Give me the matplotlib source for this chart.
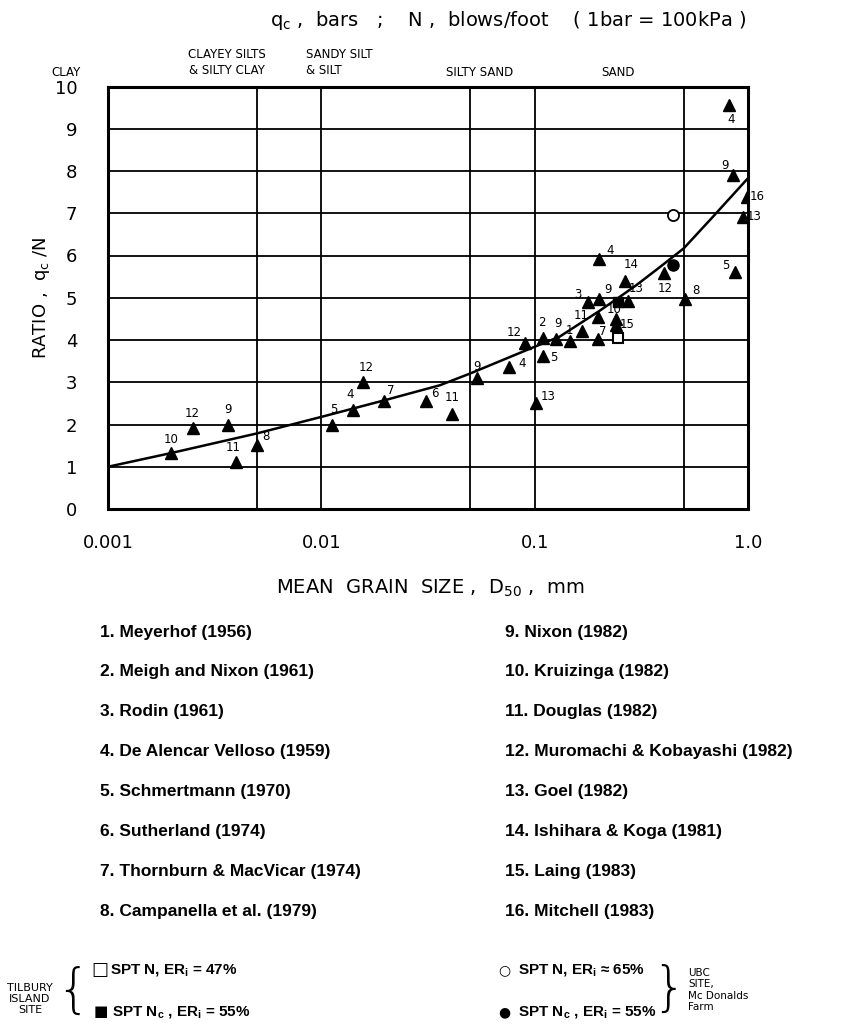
import numpy as np
from matplotlib import pyplot as plt

# grain size D50 (mm) and ratio qc/N for the triangle points, with the reference number
tri_d50 = [0.00197, 0.00249, 0.00364, 0.00397, 0.00501, 0.0112, 0.0140, 0.0157, 0.0197, 0.031,
           0.0409, 0.0535, 0.0759, 0.0902, 0.101, 0.109, 0.109, 0.126, 0.147, 0.167,
           0.198, 0.198, 0.241, 0.241, 0.177, 0.200, 0.200, 0.265, 0.275, 0.405,
           0.504, 0.871, 0.818, 0.855, 0.987, 0.944]
tri_ratio = [1.32, 1.91, 1.99, 1.12, 1.51, 1.99, 2.34, 3.00, 2.56, 2.56,
             2.26, 3.09, 3.37, 3.92, 2.50, 3.62, 4.04, 4.02, 3.97, 4.21,
             4.02, 4.55, 4.50, 4.36, 4.91, 4.96, 5.92, 5.40, 4.93, 5.59,
             4.96, 5.62, 9.56, 7.90, 7.39, 6.92]
tri_ref = ["10", "12", "9", "11", "8", "5", "4", "12", "7", "6",
           "11", "9", "4", "12", "13", "5", "2", "9", "1", "11",
           "7", "", "10", "15", "3", "9", "4", "14", "13", "12",
           "8", "5", "4", "9", "16", "13"]
# label offsets in pixels (layout only)
lab_off = [(0, 14), (0, 15), (0, 15), (-3, 14), (9, 9), (2, 15), (-2, 16), (3, 15), (7, 10), (9, 7),
           (0, 16), (0, 12), (13, 3), (-11, 11), (13, 7), (11, -1), (-1, 16), (2, 16), (-1, 11), (-1, 16),
           (5, 8), (0, 0), (-2, 9), (11, 0), (-10, 7), (9, 10), (11, 8), (6, 16), (8, 12), (1, -16),
           (11, 9), (-9, 6), (2, -14), (-8, 10), (10, 0), (11, 0)]

# Tilbury Island site
tilbury_n_d50 = [0.247]
tilbury_n_ratio = [4.04]
tilbury_nc_d50 = [0.247]
tilbury_nc_ratio = [4.91]
# UBC site, McDonalds Farm
ubc_n_d50 = [0.444]
ubc_n_ratio = [6.96]
ubc_nc_d50 = [0.447]
ubc_nc_ratio = [5.77]

# average curve
curve_d50 = [0.001, 0.002, 0.005, 0.01, 0.02, 0.036, 0.05, 0.1, 0.131, 0.2, 0.247, 0.3, 0.385, 0.5, 0.68, 1.0]
curve_ratio = [1.0, 1.33, 1.79, 2.18, 2.58, 2.93, 3.21, 3.84, 4.08, 4.68, 5.0, 5.3, 5.72, 6.17, 6.9, 7.83]

grid_x = [0.005, 0.01, 0.05, 0.1, 0.5]
xticks = [0.001, 0.01, 0.1, 1.0]
xticklabels = ["0.001", "0.01", "0.1", "1.0"]
yticks = list(range(0, 11))

refs_left = ["1. Meyerhof (1956)", "2. Meigh and Nixon (1961)", "3. Rodin (1961)",
             "4. De Alencar Velloso (1959)", "5. Schmertmann (1970)", "6. Sutherland (1974)",
             "7. Thornburn & MacVicar (1974)", "8. Campanella et al. (1979)"]
refs_right = ["9. Nixon (1982)", "10. Kruizinga (1982)", "11. Douglas (1982)",
              "12. Muromachi & Kobayashi (1982)", "13. Goel (1982)", "14. Ishihara & Koga (1981)",
              "15. Laing (1983)", "16. Mitchell (1983)"]

W, H = 845, 1028
fig = plt.figure(figsize=(W / 100, H / 100), dpi=100)


def fx(px):
    return px / W


def fy(py):
    return 1 - py / H


ax = fig.add_axes([fx(108), fy(509), 640 / W, 422.5 / H])
ax.set_xscale("log")
ax.set_xlim(0.001, 1.0)
ax.set_ylim(0, 10)

for gx in grid_x:
    ax.axvline(gx, color="black", lw=1.3, zorder=1)
for gy in range(1, 10):
    ax.axhline(gy, color="black", lw=1.3, zorder=1)
for s in ax.spines.values():
    s.set_linewidth(2.2)

ax.plot(curve_d50, curve_ratio, color="black", lw=1.8, zorder=3)
ax.plot(tri_d50, tri_ratio, linestyle="none", marker="^", color="black", markersize=8, zorder=4)
ax.plot(tilbury_n_d50, tilbury_n_ratio, linestyle="none", marker="s", mfc="white", mec="black",
        mew=1.5, markersize=7, zorder=4)
ax.plot(tilbury_nc_d50, tilbury_nc_ratio, linestyle="none", marker="s", color="black", markersize=7, zorder=4)
ax.plot(ubc_n_d50, ubc_n_ratio, linestyle="none", marker="o", mfc="white", mec="black",
        mew=1.3, markersize=8, zorder=4)
ax.plot(ubc_nc_d50, ubc_nc_ratio, linestyle="none", marker="o", color="black", markersize=8, zorder=4)

for x, y, r, off in zip(tri_d50, tri_ratio, tri_ref, lab_off):
    if r:
        ax.annotate(r, (x, y), xytext=off, textcoords="offset pixels", ha="center", va="center",
                    fontsize=8.5, zorder=5, annotation_clip=False)

ax.set_xticks(xticks)
ax.set_xticklabels(xticklabels)
ax.set_yticks(yticks)
ax.minorticks_off()
ax.tick_params(length=0, labelsize=13)
ax.tick_params(axis="y", pad=22)
ax.tick_params(axis="x", pad=18)
ax.set_ylabel(r"RATIO ,  q$\mathregular{_c}$ /N", fontsize=13, labelpad=2)

# header texts
fig.text(fx(508), fy(20), r"q$\mathregular{_c}$ ,  bars   ;    N ,  blows/foot    ( 1bar = 100kPa )",
         ha="center", va="center", fontsize=14)
soil = [(66, 73, "CLAY"), (227, 62, "CLAYEY SILTS\n& SILTY CLAY"), (306, 62, "SANDY SILT\n& SILT"),
        (480, 73, "SILTY SAND"), (618, 73, "SAND")]
for i, (px, py, t) in enumerate(soil):
    fig.text(fx(px), fy(py), t, ha="left" if i == 2 else "center", va="center", fontsize=8.5,
             linespacing=1.3)

fig.text(fx(430), fy(588), r"MEAN  GRAIN  SIZE ,  D$\mathregular{_{50}}$ ,  mm", ha="center", va="center",
         fontsize=14)

for i, (a, b) in enumerate(zip(refs_left, refs_right)):
    py = 632 + i * 39.9
    fig.text(fx(100), fy(py), a, ha="left", va="center", fontsize=12.5, fontweight="bold",
             family="Liberation Sans")
    fig.text(fx(505), fy(py), b, ha="left", va="center", fontsize=12.5, fontweight="bold",
             family="Liberation Sans")

# bottom legend
leg_font = dict(ha="left", va="center", fontsize=11, fontweight="bold", family="Liberation Sans")
fig.text(fx(30), fy(999), "TILBURY\nISLAND\nSITE", ha="center", va="center", fontsize=8, linespacing=1.15)
fig.text(fx(73), fy(992), "{", ha="center", va="center", fontsize=38, fontweight="light")
fig.text(fx(100), fy(970), "□", ha="center", va="center", fontsize=13, fontweight="bold")
fig.text(fx(110), fy(970), "SPT N, ER$\mathregular{_i}$ = 47%", **leg_font)
fig.text(fx(101), fy(1012), "■", ha="center", va="center", fontsize=11)
fig.text(fx(112), fy(1012), "SPT N$\mathregular{_c}$ , ER$\mathregular{_i}$ = 55%", **leg_font)
fig.text(fx(504), fy(970), "○", ha="center", va="center", fontsize=10)
fig.text(fx(518), fy(970), "SPT N, ER$\mathregular{_i}$ ≈ 65%", **leg_font)
fig.text(fx(504), fy(1012), "●", ha="center", va="center", fontsize=10)
fig.text(fx(518), fy(1012), "SPT N$\mathregular{_c}$ , ER$\mathregular{_i}$ = 55%", **leg_font)
fig.text(fx(669), fy(990), "}", ha="center", va="center", fontsize=38, fontweight="light")
fig.text(fx(688), fy(990), "UBC\nSITE,\nMc Donalds\nFarm", ha="left", va="center", fontsize=7.5,
         linespacing=1.2)

plt.savefig("out.png", dpi=100)
